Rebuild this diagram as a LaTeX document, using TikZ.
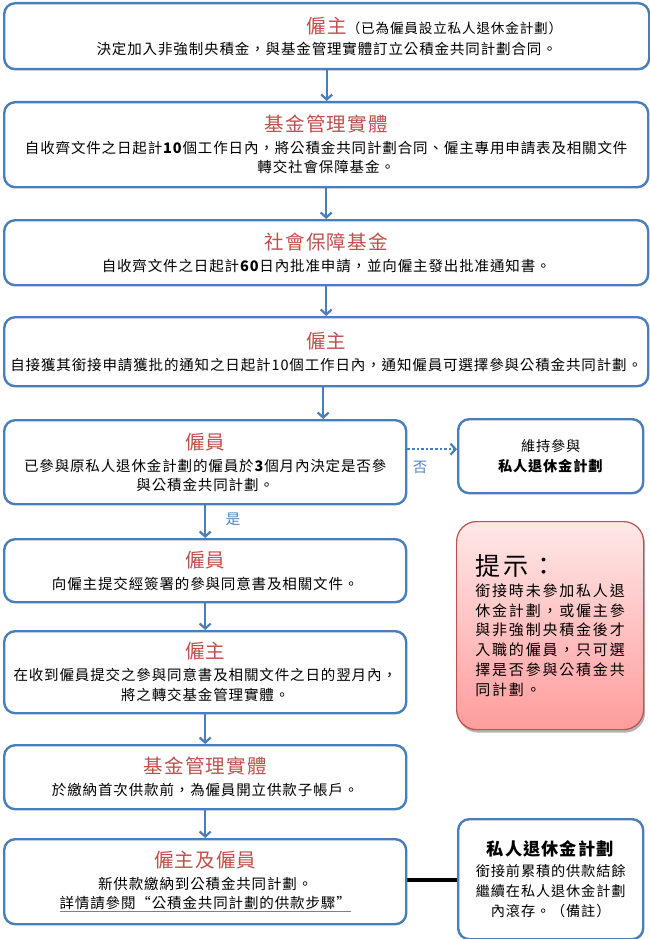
\documentclass[tikz,border=0pt]{standalone}
\usepackage{fontspec}
\setmainfont[LetterSpace=6]{Noto Sans CJK TC}
\newfontfamily\tipfont[LetterSpace=12]{Noto Sans CJK TC}
\usetikzlibrary{arrows.meta,shadows,calc}
\pgfdeclarelayer{background}
\pgfsetlayers{background,main}
\definecolor{bxblue}{HTML}{4A7EBB}
\definecolor{titred}{HTML}{C0504D}
\definecolor{lblblue}{HTML}{4F81BD}
\definecolor{tipborder}{HTML}{C0504D}
\definecolor{tiptop}{HTML}{FFE8E8}
\definecolor{tipbot}{HTML}{FF9C9C}
\newcommand\ttl[1]{{\fontsize{19.5}{23}\selectfont\color{titred}#1}}
\newcommand\grayul[1]{\setbox0\hbox{#1}\rlap{\color{gray}\rule[-3.5pt]{\wd0}{1.2pt}}\box0}
\tikzset{
  flowbox/.style={draw=bxblue, line width=2.4pt, rounded corners=11pt, fill=white,
    anchor=north west, align=center, inner sep=0pt, font=\fontsize{14.5}{19}\selectfont},
  sidebox/.style={flowbox, font=\fontsize{14.2}{20}\selectfont},
  flowarrow/.style={draw=bxblue, line width=2.4pt,
    -{Straight Barb[length=5pt,width=11pt,line width=2.2pt]}},
  dotarrow/.style={flowarrow, dash pattern=on 2.6pt off 2pt},
  yesno/.style={text=lblblue, font=\fontsize{14.5}{17}\selectfont, inner sep=0pt},
  tipbox/.style={draw=tipborder, line width=1.2pt, rounded corners=20pt,
    top color=tiptop, bottom color=tipbot, anchor=north west, align=left, inner sep=0pt,
    drop shadow={shadow xshift=1.5pt, shadow yshift=-3pt, opacity=0.3, fill=black},
    font=\tipfont\fontsize{15}{19.7}\selectfont},
  joinline/.style={draw=black, line width=3.6pt}
}
\begin{document}
\begin{tikzpicture}[x=1pt,y=-1pt]
\useasboundingbox (0,0) rectangle (650,939);

\node[flowbox, minimum width=645, minimum height=66] (b1) at (3,2)
  {\ttl{僱主\rlap{\fontsize{13.6}{16}\selectfont\color{black}（已為僱員設立私人退休金計劃）}}\\[2pt]
   決定加入非強制央積金，與基金管理實體訂立公積金共同計劃合同。};

\node[flowbox, minimum width=644, minimum height=85] (b2) at (3,101)
  {\ttl{基金管理實體}\\[3pt]
   自收齊文件之日起計\textbf{10}個工作日內，將公積金共同計劃合同、僱主專用申請表及相關文件\\
   轉交社會保障基金。};

\node[flowbox, minimum width=644, minimum height=65] (b3) at (3,219)
  {\ttl{社會保障基金}\\[3pt]
   自收齊文件之日起計\textbf{60}日內批准申請，並向僱主發出批准通知書。};

\node[flowbox, minimum width=644, minimum height=69] (b4) at (3,316)
  {\ttl{僱主}\\[3pt]
   自接獲其銜接申請獲批的通知之日起計10個工作日內，通知僱員可選擇參與公積金共同計劃。};

\node[flowbox, minimum width=402, minimum height=84] (b5) at (3,419)
  {\ttl{僱員}\\[3pt]
   已參與原私人退休金計劃的僱員於\textbf{3}個月內決定是否參\\
   與公積金共同計劃。};

\node[sidebox, minimum width=185, minimum height=74] (keep) at (457,418)
  {維持參與\\ \textbf{私人退休金計劃}};

\node[flowbox, minimum width=402, minimum height=63] (b6) at (3,538)
  {\ttl{僱員}\\[3pt]
   向僱主提交經簽署的參與同意書及相關文件。};

\node[flowbox, minimum width=402, minimum height=82] (b7) at (3,630)
  {\ttl{僱主}\\[3pt]
   在收到僱員提交之參與同意書及相關文件之日的翌月內，\\[1pt]
   將之轉交基金管理實體。};

\node[flowbox, minimum width=402, minimum height=64] (b8) at (3,744)
  {\ttl{基金管理實體}\\[3pt]
   於繳納首次供款前，為僱員開立供款子帳戶。};

\node[flowbox, minimum width=402, minimum height=85] (b9) at (3,838)
  {\ttl{僱主及僱員}\\[3pt]
   新供款繳納到公積金共同計劃。\\
   \grayul{詳情請參閱“公積金共同計劃的供款步驟”}};

\node[sidebox, minimum width=185, minimum height=120] (priv) at (457,818)
  {{\fontsize{17.2}{21}\selectfont\textbf{私人退休金計劃}}\\[1pt]
   銜接前累積的供款結餘\\
   繼續在私人退休金計劃\\
   內滾存。（備註）};

\node[tipbox, minimum width=187, minimum height=208] (tip) at (456,521)
  {{\fontsize{25}{28}\selectfont 提示：}\\[1pt]
   銜接時未參加私人退\\
   休金計劃，或僱主參\\
   與非強制央積金後才\\
   入職的僱員，只可選\\
   擇是否參與公積金共\\
   同計劃。};

% connectors
\draw[flowarrow] (b1.south) -- (b1.south |- b2.north);
\draw[flowarrow] (b2.south) -- (b2.south |- b3.north);
\draw[flowarrow] (b3.south) -- (b3.south |- b4.north);
\draw[flowarrow] ([xshift=-3pt]b4.south) -- ([xshift=-3pt]b4.south |- b5.north);
\draw[dotarrow] ([yshift=13pt]b5.east) -- ([yshift=7pt]keep.west);
\draw[flowarrow] (b5.south) -- (b5.south |- b6.north);
\draw[flowarrow] (b6.south) -- (b6.south |- b7.north);
\draw[flowarrow] (b7.south) -- (b7.south |- b8.north);
\draw[flowarrow] (b8.south) -- (b8.south |- b9.north);
\begin{pgfonlayer}{background}
\draw[joinline] ([yshift=2pt]b9.east) -- ([yshift=2pt]b9.east -| priv.west);
\end{pgfonlayer}

\node[yesno] (no) at (420,467) {否};
\node[yesno] (yes) at (233,519) {是};
\end{tikzpicture}
\end{document}
